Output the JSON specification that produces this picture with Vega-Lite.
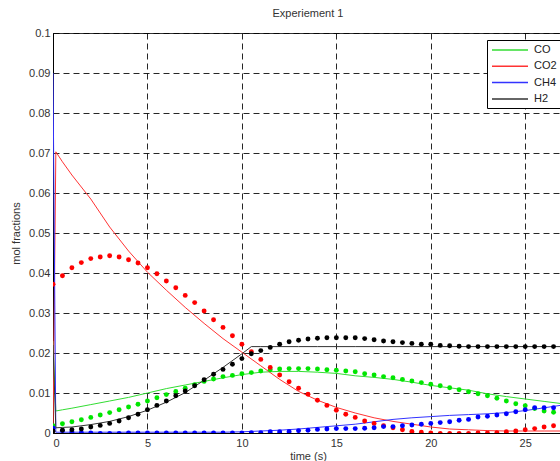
{
  "$schema": "https://vega.github.io/schema/vega-lite/v6.json",
  "width": 510,
  "height": 400,
  "autosize": {"type": "none"},
  "padding": {"left": 53, "top": 33, "right": 0, "bottom": 28},
  "background": "white",
  "title": {"text": "Experiement 1", "anchor": "middle", "fontSize": 11, "fontWeight": "normal", "font": "Liberation Sans", "color": "#333", "offset": 8},
  "config": {
    "view": {"stroke": "#333", "strokeWidth": 1},
    "axis": {"labelFont": "Liberation Sans", "labelFontSize": 11, "labelColor": "#333", "titleFont": "Liberation Sans", "titleFontSize": 11, "titleFontWeight": "normal", "titleColor": "#333", "ticks": false, "domainColor": "#000", "gridColor": "#000", "gridOpacity": 0.85, "gridDash": [6, 4], "gridWidth": 1}
  },
  "datasets": {
    "sim": [
      {"t":0,"s":"CO","v":0.023},{"t":0.15,"s":"CO","v":0.0055},{"t":0.5,"s":"CO","v":0.0058},{"t":1,"s":"CO","v":0.0062},{"t":2,"s":"CO","v":0.0071},{"t":3,"s":"CO","v":0.008},{"t":4,"s":"CO","v":0.0089},{"t":5,"s":"CO","v":0.01},{"t":6,"s":"CO","v":0.0111},{"t":7,"s":"CO","v":0.012},{"t":8,"s":"CO","v":0.0129},{"t":9,"s":"CO","v":0.0138},{"t":10,"s":"CO","v":0.0146},{"t":11,"s":"CO","v":0.0152},{"t":12,"s":"CO","v":0.0154},{"t":13,"s":"CO","v":0.0154},{"t":14,"s":"CO","v":0.0152},{"t":15,"s":"CO","v":0.0149},{"t":16,"s":"CO","v":0.0143},{"t":17,"s":"CO","v":0.0139},{"t":18,"s":"CO","v":0.0134},{"t":19,"s":"CO","v":0.0127},{"t":20,"s":"CO","v":0.0119},{"t":21,"s":"CO","v":0.0113},{"t":22,"s":"CO","v":0.0107},{"t":23,"s":"CO","v":0.0098},{"t":24,"s":"CO","v":0.0091},{"t":25,"s":"CO","v":0.0085},{"t":26,"s":"CO","v":0.0079},{"t":27,"s":"CO","v":0.0073},
      {"t":0,"s":"CO2","v":0.0},{"t":0.15,"s":"CO2","v":0.0703},{"t":0.5,"s":"CO2","v":0.0678},{"t":1,"s":"CO2","v":0.0645},{"t":2,"s":"CO2","v":0.0585},{"t":3,"s":"CO2","v":0.0515},{"t":4,"s":"CO2","v":0.0455},{"t":5,"s":"CO2","v":0.0402},{"t":6,"s":"CO2","v":0.0357},{"t":7,"s":"CO2","v":0.0314},{"t":8,"s":"CO2","v":0.0274},{"t":9,"s":"CO2","v":0.0236},{"t":10,"s":"CO2","v":0.0202},{"t":11,"s":"CO2","v":0.0168},{"t":12,"s":"CO2","v":0.0134},{"t":13,"s":"CO2","v":0.0104},{"t":14,"s":"CO2","v":0.0082},{"t":15,"s":"CO2","v":0.0064},{"t":16,"s":"CO2","v":0.005},{"t":17,"s":"CO2","v":0.0038},{"t":18,"s":"CO2","v":0.0029},{"t":19,"s":"CO2","v":0.0022},{"t":20,"s":"CO2","v":0.0015},{"t":21,"s":"CO2","v":0.001},{"t":22,"s":"CO2","v":0.0008},{"t":23,"s":"CO2","v":0.0006},{"t":24,"s":"CO2","v":0.0005},{"t":25,"s":"CO2","v":0.0005},{"t":26,"s":"CO2","v":0.0005},{"t":27,"s":"CO2","v":0.0005},
      {"t":0,"s":"CH4","v":0.09},{"t":0.15,"s":"CH4","v":0.0002},{"t":0.5,"s":"CH4","v":0.0002},{"t":1,"s":"CH4","v":0.0002},{"t":2,"s":"CH4","v":0.0002},{"t":3,"s":"CH4","v":0.0002},{"t":4,"s":"CH4","v":0.0002},{"t":5,"s":"CH4","v":0.0002},{"t":6,"s":"CH4","v":0.0002},{"t":7,"s":"CH4","v":0.0002},{"t":8,"s":"CH4","v":0.0002},{"t":9,"s":"CH4","v":0.0002},{"t":10,"s":"CH4","v":0.0003},{"t":11,"s":"CH4","v":0.0005},{"t":12,"s":"CH4","v":0.0007},{"t":13,"s":"CH4","v":0.001},{"t":14,"s":"CH4","v":0.0014},{"t":15,"s":"CH4","v":0.0018},{"t":16,"s":"CH4","v":0.0022},{"t":17,"s":"CH4","v":0.0028},{"t":18,"s":"CH4","v":0.0034},{"t":19,"s":"CH4","v":0.0038},{"t":20,"s":"CH4","v":0.0041},{"t":21,"s":"CH4","v":0.0044},{"t":22,"s":"CH4","v":0.0046},{"t":23,"s":"CH4","v":0.0048},{"t":24,"s":"CH4","v":0.0051},{"t":25,"s":"CH4","v":0.0056},{"t":26,"s":"CH4","v":0.0063},{"t":27,"s":"CH4","v":0.007},
      {"t":0,"s":"H2","v":0.022},{"t":0.15,"s":"H2","v":0.0013},{"t":0.5,"s":"H2","v":0.0014},{"t":1,"s":"H2","v":0.0015},{"t":2,"s":"H2","v":0.0021},{"t":3,"s":"H2","v":0.0029},{"t":4,"s":"H2","v":0.0041},{"t":5,"s":"H2","v":0.0057},{"t":6,"s":"H2","v":0.0077},{"t":7,"s":"H2","v":0.0101},{"t":8,"s":"H2","v":0.0132},{"t":9,"s":"H2","v":0.0164},{"t":10,"s":"H2","v":0.0198},{"t":10.5,"s":"H2","v":0.0216},{"t":11,"s":"H2","v":0.0216},{"t":12,"s":"H2","v":0.0216},{"t":13,"s":"H2","v":0.0216},{"t":14,"s":"H2","v":0.0216},{"t":15,"s":"H2","v":0.0216},{"t":16,"s":"H2","v":0.0216},{"t":17,"s":"H2","v":0.0216},{"t":18,"s":"H2","v":0.0216},{"t":19,"s":"H2","v":0.0216},{"t":20,"s":"H2","v":0.0216},{"t":21,"s":"H2","v":0.0216},{"t":22,"s":"H2","v":0.0216},{"t":23,"s":"H2","v":0.0216},{"t":24,"s":"H2","v":0.0216},{"t":25,"s":"H2","v":0.0216},{"t":26,"s":"H2","v":0.0216},{"t":27,"s":"H2","v":0.0216}
    ],
    "exp": [
      {"t":0,"s":"CO","v":0.0018},{"t":0.5,"s":"CO","v":0.0023},{"t":1,"s":"CO","v":0.0028},{"t":1.5,"s":"CO","v":0.0033},{"t":2,"s":"CO","v":0.0039},{"t":2.5,"s":"CO","v":0.0045},{"t":3,"s":"CO","v":0.0051},{"t":3.5,"s":"CO","v":0.0058},{"t":4,"s":"CO","v":0.0065},{"t":4.5,"s":"CO","v":0.0072},{"t":5,"s":"CO","v":0.008},{"t":5.5,"s":"CO","v":0.0088},{"t":6,"s":"CO","v":0.0096},{"t":6.5,"s":"CO","v":0.0104},{"t":7,"s":"CO","v":0.0112},{"t":7.5,"s":"CO","v":0.0121},{"t":8,"s":"CO","v":0.0129},{"t":8.5,"s":"CO","v":0.0135},{"t":9,"s":"CO","v":0.0141},{"t":9.5,"s":"CO","v":0.0144},{"t":10,"s":"CO","v":0.0148},{"t":10.5,"s":"CO","v":0.0151},{"t":11,"s":"CO","v":0.0155},{"t":11.5,"s":"CO","v":0.0158},{"t":12,"s":"CO","v":0.016},{"t":12.5,"s":"CO","v":0.0161},{"t":13,"s":"CO","v":0.0161},{"t":13.5,"s":"CO","v":0.0161},{"t":14,"s":"CO","v":0.016},{"t":14.5,"s":"CO","v":0.0158},{"t":15,"s":"CO","v":0.0157},{"t":15.5,"s":"CO","v":0.0155},{"t":16,"s":"CO","v":0.0153},{"t":16.5,"s":"CO","v":0.0148},{"t":17,"s":"CO","v":0.0145},{"t":17.5,"s":"CO","v":0.0141},{"t":18,"s":"CO","v":0.0138},{"t":18.5,"s":"CO","v":0.0134},{"t":19,"s":"CO","v":0.013},{"t":19.5,"s":"CO","v":0.0126},{"t":20,"s":"CO","v":0.0122},{"t":20.5,"s":"CO","v":0.0118},{"t":21,"s":"CO","v":0.0113},{"t":21.5,"s":"CO","v":0.0108},{"t":22,"s":"CO","v":0.0103},{"t":22.5,"s":"CO","v":0.0098},{"t":23,"s":"CO","v":0.0093},{"t":23.5,"s":"CO","v":0.0087},{"t":24,"s":"CO","v":0.008},{"t":24.5,"s":"CO","v":0.0073},{"t":25,"s":"CO","v":0.0068},{"t":25.5,"s":"CO","v":0.0061},{"t":26,"s":"CO","v":0.0055},{"t":26.5,"s":"CO","v":0.0052},{"t":27,"s":"CO","v":0.005},
      {"t":0,"s":"CO2","v":0.0372},{"t":0.5,"s":"CO2","v":0.0393},{"t":1,"s":"CO2","v":0.0413},{"t":1.5,"s":"CO2","v":0.0426},{"t":2,"s":"CO2","v":0.0436},{"t":2.5,"s":"CO2","v":0.044},{"t":3,"s":"CO2","v":0.0443},{"t":3.5,"s":"CO2","v":0.044},{"t":4,"s":"CO2","v":0.0433},{"t":4.5,"s":"CO2","v":0.0425},{"t":5,"s":"CO2","v":0.0413},{"t":5.5,"s":"CO2","v":0.0398},{"t":6,"s":"CO2","v":0.038},{"t":6.5,"s":"CO2","v":0.0363},{"t":7,"s":"CO2","v":0.0344},{"t":7.5,"s":"CO2","v":0.0326},{"t":8,"s":"CO2","v":0.0305},{"t":8.5,"s":"CO2","v":0.0283},{"t":9,"s":"CO2","v":0.0264},{"t":9.5,"s":"CO2","v":0.0243},{"t":10,"s":"CO2","v":0.0222},{"t":10.5,"s":"CO2","v":0.0203},{"t":11,"s":"CO2","v":0.0184},{"t":11.5,"s":"CO2","v":0.0164},{"t":12,"s":"CO2","v":0.0145},{"t":12.5,"s":"CO2","v":0.0128},{"t":13,"s":"CO2","v":0.0112},{"t":13.5,"s":"CO2","v":0.0097},{"t":14,"s":"CO2","v":0.0082},{"t":14.5,"s":"CO2","v":0.0069},{"t":15,"s":"CO2","v":0.0057},{"t":15.5,"s":"CO2","v":0.0047},{"t":16,"s":"CO2","v":0.0039},{"t":16.5,"s":"CO2","v":0.003},{"t":17,"s":"CO2","v":0.0024},{"t":17.5,"s":"CO2","v":0.0018},{"t":18,"s":"CO2","v":0.0013},{"t":18.5,"s":"CO2","v":0.0008},{"t":19,"s":"CO2","v":0.0004},{"t":19.5,"s":"CO2","v":0.0002},{"t":20,"s":"CO2","v":0.0},{"t":20.5,"s":"CO2","v":-0.0001},{"t":21,"s":"CO2","v":-0.0001},{"t":21.5,"s":"CO2","v":-0.0001},{"t":22,"s":"CO2","v":-0.0001},{"t":22.5,"s":"CO2","v":0.0},{"t":23,"s":"CO2","v":0.0},{"t":23.5,"s":"CO2","v":0.0001},{"t":24,"s":"CO2","v":0.0003},{"t":24.5,"s":"CO2","v":0.0005},{"t":25,"s":"CO2","v":0.0008},{"t":25.5,"s":"CO2","v":0.0011},{"t":26,"s":"CO2","v":0.0015},{"t":26.5,"s":"CO2","v":0.0018},{"t":27,"s":"CO2","v":0.0021},
      {"t":0,"s":"CH4","v":0.0012},{"t":0.5,"s":"CH4","v":0.0006},{"t":1,"s":"CH4","v":0.0003},{"t":1.5,"s":"CH4","v":0.0001},{"t":2,"s":"CH4","v":0.0},{"t":2.5,"s":"CH4","v":-0.0001},{"t":3,"s":"CH4","v":-0.0001},{"t":3.5,"s":"CH4","v":-0.0001},{"t":4,"s":"CH4","v":0.0},{"t":4.5,"s":"CH4","v":0.0},{"t":5,"s":"CH4","v":0.0},{"t":5.5,"s":"CH4","v":0.0},{"t":6,"s":"CH4","v":0.0},{"t":6.5,"s":"CH4","v":0.0},{"t":7,"s":"CH4","v":0.0},{"t":7.5,"s":"CH4","v":0.0},{"t":8,"s":"CH4","v":0.0},{"t":8.5,"s":"CH4","v":0.0},{"t":9,"s":"CH4","v":0.0},{"t":9.5,"s":"CH4","v":0.0},{"t":10,"s":"CH4","v":0.0},{"t":10.5,"s":"CH4","v":0.0001},{"t":11,"s":"CH4","v":0.0001},{"t":11.5,"s":"CH4","v":0.0003},{"t":12,"s":"CH4","v":0.0003},{"t":12.5,"s":"CH4","v":0.0004},{"t":13,"s":"CH4","v":0.0006},{"t":13.5,"s":"CH4","v":0.0007},{"t":14,"s":"CH4","v":0.0009},{"t":14.5,"s":"CH4","v":0.001},{"t":15,"s":"CH4","v":0.0011},{"t":15.5,"s":"CH4","v":0.0011},{"t":16,"s":"CH4","v":0.0011},{"t":16.5,"s":"CH4","v":0.0012},{"t":17,"s":"CH4","v":0.0013},{"t":17.5,"s":"CH4","v":0.0016},{"t":18,"s":"CH4","v":0.0016},{"t":18.5,"s":"CH4","v":0.0018},{"t":19,"s":"CH4","v":0.002},{"t":19.5,"s":"CH4","v":0.0022},{"t":20,"s":"CH4","v":0.0024},{"t":20.5,"s":"CH4","v":0.0026},{"t":21,"s":"CH4","v":0.0028},{"t":21.5,"s":"CH4","v":0.0032},{"t":22,"s":"CH4","v":0.0034},{"t":22.5,"s":"CH4","v":0.004},{"t":23,"s":"CH4","v":0.0042},{"t":23.5,"s":"CH4","v":0.0045},{"t":24,"s":"CH4","v":0.0048},{"t":24.5,"s":"CH4","v":0.0053},{"t":25,"s":"CH4","v":0.0058},{"t":25.5,"s":"CH4","v":0.0063},{"t":26,"s":"CH4","v":0.0063},{"t":26.5,"s":"CH4","v":0.0063},{"t":27,"s":"CH4","v":0.0063},
      {"t":0,"s":"H2","v":0.0005},{"t":0.5,"s":"H2","v":0.0007},{"t":1,"s":"H2","v":0.0008},{"t":1.5,"s":"H2","v":0.001},{"t":2,"s":"H2","v":0.0015},{"t":2.5,"s":"H2","v":0.0019},{"t":3,"s":"H2","v":0.0024},{"t":3.5,"s":"H2","v":0.003},{"t":4,"s":"H2","v":0.0038},{"t":4.5,"s":"H2","v":0.0047},{"t":5,"s":"H2","v":0.0058},{"t":5.5,"s":"H2","v":0.0069},{"t":6,"s":"H2","v":0.008},{"t":6.5,"s":"H2","v":0.0093},{"t":7,"s":"H2","v":0.0105},{"t":7.5,"s":"H2","v":0.0118},{"t":8,"s":"H2","v":0.0133},{"t":8.5,"s":"H2","v":0.0147},{"t":9,"s":"H2","v":0.0159},{"t":9.5,"s":"H2","v":0.0172},{"t":10,"s":"H2","v":0.0186},{"t":10.5,"s":"H2","v":0.0198},{"t":11,"s":"H2","v":0.0206},{"t":11.5,"s":"H2","v":0.0214},{"t":12,"s":"H2","v":0.0222},{"t":12.5,"s":"H2","v":0.0228},{"t":13,"s":"H2","v":0.0232},{"t":13.5,"s":"H2","v":0.0235},{"t":14,"s":"H2","v":0.0237},{"t":14.5,"s":"H2","v":0.0238},{"t":15,"s":"H2","v":0.0238},{"t":15.5,"s":"H2","v":0.0238},{"t":16,"s":"H2","v":0.0238},{"t":16.5,"s":"H2","v":0.0236},{"t":17,"s":"H2","v":0.0233},{"t":17.5,"s":"H2","v":0.023},{"t":18,"s":"H2","v":0.0228},{"t":18.5,"s":"H2","v":0.0226},{"t":19,"s":"H2","v":0.0224},{"t":19.5,"s":"H2","v":0.0222},{"t":20,"s":"H2","v":0.0222},{"t":20.5,"s":"H2","v":0.0219},{"t":21,"s":"H2","v":0.0218},{"t":21.5,"s":"H2","v":0.0217},{"t":22,"s":"H2","v":0.0216},{"t":22.5,"s":"H2","v":0.0216},{"t":23,"s":"H2","v":0.0216},{"t":23.5,"s":"H2","v":0.0216},{"t":24,"s":"H2","v":0.0216},{"t":24.5,"s":"H2","v":0.0216},{"t":25,"s":"H2","v":0.0216},{"t":25.5,"s":"H2","v":0.0216},{"t":26,"s":"H2","v":0.0216},{"t":26.5,"s":"H2","v":0.0216},{"t":27,"s":"H2","v":0.0216}
    ]
  },
  "encoding": {
    "x": {"field": "t", "type": "quantitative", "scale": {"domain": [0, 27], "nice": false, "zero": false},
      "axis": {"values": [0, 5, 10, 15, 20, 25], "title": "time (s)", "grid": true, "labelPadding": 4, "titlePadding": 2}},
    "y": {"field": "v", "type": "quantitative", "scale": {"domain": [0, 0.1], "nice": false},
      "axis": {"values": [0, 0.01, 0.02, 0.03, 0.04, 0.05, 0.06, 0.07, 0.08, 0.09, 0.1], "format": "~g", "title": "mol fractions", "grid": true, "labelPadding": 3, "titlePadding": 7}}
  },
  "layer": [
    {
      "data": {"name": "sim"},
      "mark": {"type": "line", "strokeWidth": 1, "clip": true},
      "encoding": {
        "color": {"field": "s", "type": "nominal",
          "scale": {"domain": ["CO", "CO2", "CH4", "H2"], "range": ["#33dd33", "#ff3333", "#3333ff", "#333333"]},
          "legend": {"title": null, "orient": "none", "legendX": 434, "legendY": 7, "direction": "vertical",
            "strokeColor": "#000", "fillColor": "white", "padding": 4, "labelFont": "Liberation Sans", "labelFontSize": 11, "labelColor": "#222",
            "symbolType": "M-1,0H6.2", "symbolSize": 100, "symbolStrokeWidth": 1.5, "labelOffset": 31, "rowPadding": 5.3, "cornerRadius": 0}}
      }
    },
    {
      "data": {"name": "exp"},
      "mark": {"type": "circle", "size": 24, "opacity": 1, "clip": true},
      "encoding": {
        "color": {"field": "s", "type": "nominal",
          "scale": {"domain": ["CO", "CO2", "CH4", "H2"], "range": ["#00e600", "#ff0000", "#0000ff", "#000000"]},
          "legend": null}
      }
    }
  ],
  "resolve": {"scale": {"color": "independent"}}
}
